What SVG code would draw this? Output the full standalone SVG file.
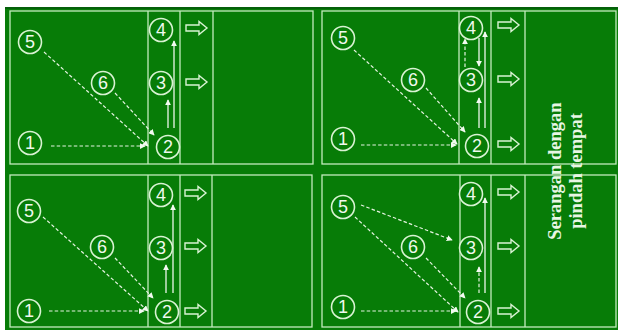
<svg xmlns="http://www.w3.org/2000/svg" width="618" height="330" viewBox="0 0 618 330">
<defs>
<style>
.bg{fill:#077c07}
.ln{fill:none;stroke:#c4ecbe;stroke-width:1.3}
.nd circle{fill:#077c07;stroke:#d9f3d3;stroke-width:1.6}
.nd text{fill:#f0f9ee;font-family:"Liberation Sans",Arial,sans-serif;font-size:18px;text-anchor:middle;dominant-baseline:central}
.ha{fill:none;stroke:#d9f3d3;stroke-width:1.4}
.ds{fill:none;stroke:#e6f4e2;stroke-width:1.2;stroke-dasharray:3.5 2.2}
.sl{fill:none;stroke:#eef8ec;stroke-width:1.3}
.tt{fill:#e8f6e4;font-family:"Liberation Serif","Times New Roman",serif;font-weight:bold;font-size:18.5px;text-anchor:middle}
</style>
<marker id="ah" viewBox="0 0 8 8" refX="7" refY="4" markerWidth="6" markerHeight="6" markerUnits="userSpaceOnUse" orient="auto">
<path d="M0,0 L8,4 L0,8 Z" fill="#f2faf0"/>
</marker>
<path id="harr" d="M0,-3 H13 V-6.5 L21,0 L13,6.5 V3 H0 Z"/>
</defs>
<rect x="0" y="0" width="618" height="330" fill="#ffffff"/>
<rect class="bg" x="5" y="7" width="613" height="323"/>
<rect x="5" y="7" width="613" height="2" fill="#05600a"/>

<g id="panel-lines">
<rect class="ln" x="10" y="11" width="303" height="153"/>
<line class="ln" x1="148" y1="11" x2="148" y2="164"/>
<line class="ln" x1="180" y1="11" x2="180" y2="164"/>
<line class="ln" x1="213" y1="11" x2="213" y2="164"/>
<rect class="ln" x="322" y="11" width="294" height="153"/>
<line class="ln" x1="459" y1="11" x2="459" y2="164"/>
<line class="ln" x1="491" y1="11" x2="491" y2="164"/>
<line class="ln" x1="525" y1="11" x2="525" y2="164"/>
<rect class="ln" x="10" y="175" width="302" height="152"/>
<line class="ln" x1="148" y1="175" x2="148" y2="327"/>
<line class="ln" x1="180" y1="175" x2="180" y2="327"/>
<line class="ln" x1="212" y1="175" x2="212" y2="327"/>
<rect class="ln" x="322" y="175" width="294" height="152"/>
<line class="ln" x1="460" y1="175" x2="460" y2="327"/>
<line class="ln" x1="491" y1="175" x2="491" y2="327"/>
<line class="ln" x1="525" y1="175" x2="525" y2="327"/>
</g>

<g id="hollow-arrows" class="ha">
<use href="#harr" x="186" y="28"/>
<use href="#harr" x="186" y="82"/>
<use href="#harr" x="498" y="25"/>
<use href="#harr" x="498" y="79"/>
<use href="#harr" x="498" y="144"/>
<use href="#harr" x="185" y="193"/>
<use href="#harr" x="185" y="246"/>
<use href="#harr" x="185" y="311"/>
<use href="#harr" x="498" y="192"/>
<use href="#harr" x="498" y="246"/>
<use href="#harr" x="498" y="311"/>
</g>

<g id="connectors">
<line class="ds" x1="51" y1="146" x2="145" y2="146" marker-end="url(#ah)"/>
<line class="ds" x1="44" y1="52" x2="148" y2="146" marker-end="url(#ah)"/>
<line class="ds" x1="115" y1="93" x2="154" y2="135" marker-end="url(#ah)"/>
<line class="sl" x1="168" y1="128" x2="168" y2="100" marker-end="url(#ah)"/>
<line class="sl" x1="174" y1="128" x2="174" y2="41" marker-end="url(#ah)"/>
<line class="ds" x1="361" y1="145" x2="456" y2="145" marker-end="url(#ah)"/>
<line class="ds" x1="354" y1="50" x2="457" y2="144" marker-end="url(#ah)"/>
<line class="ds" x1="426" y1="88" x2="465" y2="132" marker-end="url(#ah)"/>
<line class="sl" x1="479" y1="128" x2="479" y2="98" marker-end="url(#ah)"/>
<line class="sl" x1="485" y1="128" x2="485" y2="32" marker-end="url(#ah)"/>
<line class="ds" x1="465" y1="67" x2="465" y2="39" marker-end="url(#ah)"/>
<line class="sl" x1="479" y1="38" x2="479" y2="66" marker-end="url(#ah)"/>
<line class="ds" x1="49" y1="311" x2="144" y2="311" marker-end="url(#ah)"/>
<line class="ds" x1="43" y1="217" x2="148" y2="311" marker-end="url(#ah)"/>
<line class="ds" x1="115" y1="258" x2="153" y2="298" marker-end="url(#ah)"/>
<line class="sl" x1="166" y1="293" x2="166" y2="265" marker-end="url(#ah)"/>
<line class="sl" x1="173" y1="293" x2="173" y2="205" marker-end="url(#ah)"/>
<line class="ds" x1="361" y1="311" x2="456" y2="311" marker-end="url(#ah)"/>
<line class="ds" x1="361" y1="205" x2="452" y2="240" marker-end="url(#ah)"/>
<line class="ds" x1="355" y1="217" x2="458" y2="312" marker-end="url(#ah)"/>
<line class="ds" x1="426" y1="258" x2="465" y2="298" marker-end="url(#ah)"/>
<line class="ds" x1="479" y1="293" x2="479" y2="267" marker-end="url(#ah)"/>
<line class="sl" x1="485" y1="293" x2="485" y2="198" marker-end="url(#ah)"/>
</g>

<g id="tl-4" class="nd"><circle cx="161" cy="30" r="11.5"/><text x="161" y="30">4</text></g>
<g id="tl-3" class="nd"><circle cx="161" cy="83" r="11.5"/><text x="161" y="83">3</text></g>
<g id="tl-2" class="nd"><circle cx="168" cy="147" r="11.5"/><text x="168" y="147">2</text></g>
<g id="tl-5" class="nd"><circle cx="30" cy="42" r="11.5"/><text x="30" y="42">5</text></g>
<g id="tl-6" class="nd"><circle cx="103" cy="83" r="11.5"/><text x="103" y="83">6</text></g>
<g id="tl-1" class="nd"><circle cx="30" cy="143" r="11.5"/><text x="30" y="143">1</text></g>
<g id="tr-4" class="nd"><circle cx="471" cy="28" r="11.5"/><text x="471" y="28">4</text></g>
<g id="tr-3" class="nd"><circle cx="471" cy="80" r="11.5"/><text x="471" y="80">3</text></g>
<g id="tr-2" class="nd"><circle cx="477" cy="146" r="11.5"/><text x="477" y="146">2</text></g>
<g id="tr-5" class="nd"><circle cx="343" cy="38" r="11.5"/><text x="343" y="38">5</text></g>
<g id="tr-6" class="nd"><circle cx="413" cy="80" r="11.5"/><text x="413" y="80">6</text></g>
<g id="tr-1" class="nd"><circle cx="343" cy="139" r="11.5"/><text x="343" y="139">1</text></g>
<g id="bl-4" class="nd"><circle cx="161" cy="195" r="11.5"/><text x="161" y="195">4</text></g>
<g id="bl-3" class="nd"><circle cx="161" cy="248" r="11.5"/><text x="161" y="248">3</text></g>
<g id="bl-2" class="nd"><circle cx="167" cy="312" r="11.5"/><text x="167" y="312">2</text></g>
<g id="bl-5" class="nd"><circle cx="29" cy="211" r="11.5"/><text x="29" y="211">5</text></g>
<g id="bl-6" class="nd"><circle cx="102" cy="247" r="11.5"/><text x="102" y="247">6</text></g>
<g id="bl-1" class="nd"><circle cx="29" cy="311" r="11.5"/><text x="29" y="311">1</text></g>
<g id="br-4" class="nd"><circle cx="471" cy="194" r="11.5"/><text x="471" y="194">4</text></g>
<g id="br-3" class="nd"><circle cx="471" cy="248" r="11.5"/><text x="471" y="248">3</text></g>
<g id="br-2" class="nd"><circle cx="478" cy="312" r="11.5"/><text x="478" y="312">2</text></g>
<g id="br-5" class="nd"><circle cx="343" cy="207" r="11.5"/><text x="343" y="207">5</text></g>
<g id="br-6" class="nd"><circle cx="413" cy="247" r="11.5"/><text x="413" y="247">6</text></g>
<g id="br-1" class="nd"><circle cx="343" cy="307" r="11.5"/><text x="343" y="307">1</text></g>

<g id="title">
<text class="tt" transform="translate(561,171) rotate(-90)">Serangan dengan</text>
<text class="tt" transform="translate(582,171) rotate(-90)">pindah tempat</text>
</g>
</svg>
